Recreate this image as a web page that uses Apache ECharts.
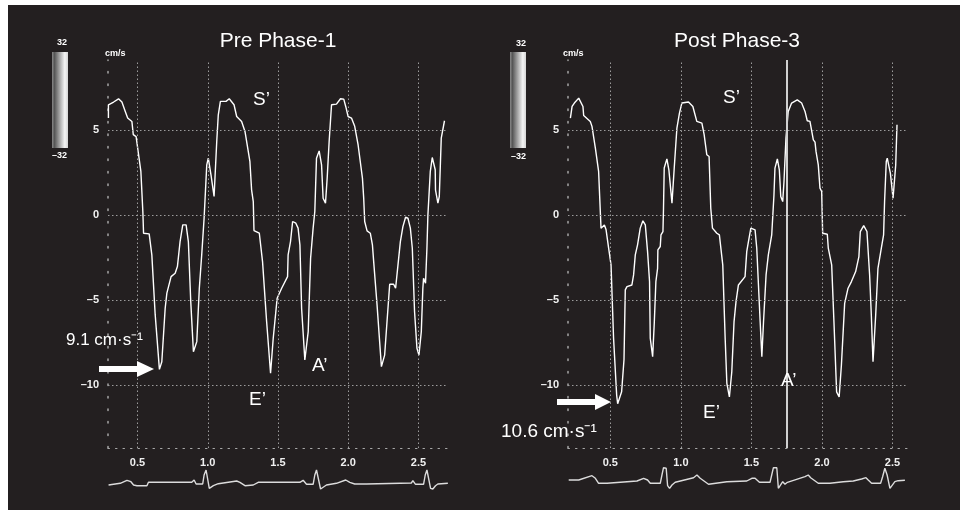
<!DOCTYPE html>
<html lang="en">
<head>
  <meta charset="UTF-8">
  <title>Tissue Doppler Pre / Post</title>
  <script src="https://cdn.jsdelivr.net/npm/echarts@6/dist/echarts.min.js"></script>
</head>
<body style="margin:0;background:#fff">
  <div id="main" style="width:960px;height:518px"></div>
  <script>
    // velocity traces (s, cm/s)
    var leftTime = [0.293, 0.293, 0.306, 0.33, 0.365, 0.389, 0.413, 0.43, 0.46, 0.47, 0.49, 0.524, 0.538, 0.543, 0.583, 0.602, 0.626, 0.656, 0.673, 0.697, 0.709, 0.739, 0.768, 0.784, 0.803, 0.822, 0.846, 0.862, 0.879, 0.898, 0.922, 0.94, 0.957, 0.974, 0.993, 1.004, 1.023, 1.045, 1.064, 1.075, 1.09, 1.13, 1.153, 1.187, 1.206, 1.241, 1.265, 1.3, 1.312, 1.324, 1.329, 1.367, 1.39, 1.419, 1.447, 1.466, 1.494, 1.526, 1.568, 1.572, 1.589, 1.604, 1.627, 1.643, 1.656, 1.668, 1.691, 1.715, 1.732, 1.75, 1.762, 1.774, 1.793, 1.81, 1.821, 1.838, 1.85, 1.864, 1.881, 1.916, 1.945, 1.968, 1.982, 1.999, 2.023, 2.046, 2.07, 2.101, 2.11, 2.117, 2.134, 2.157, 2.172, 2.181, 2.195, 2.205, 2.236, 2.259, 2.276, 2.295, 2.323, 2.337, 2.354, 2.371, 2.389, 2.408, 2.425, 2.442, 2.456, 2.472, 2.489, 2.503, 2.52, 2.531, 2.536, 2.55, 2.56, 2.567, 2.584, 2.598, 2.619, 2.621, 2.638, 2.648, 2.662, 2.685]
    var leftVel = [5.69, 6.47, 6.57, 6.63, 6.82, 6.63, 6.08, 5.69, 5.49, 4.71, 4.6, 2.55, 0.2, -1.08, -1.12, -2.35, -5.88, -9.08, -8.63, -5.49, -4.6, -3.63, -3.43, -3.04, -1.57, -0.59, -0.59, -1.57, -5.1, -8.04, -7.45, -4.31, -2.35, -0.2, 2.94, 3.33, 2.35, 1.08, 4.31, 5.88, 6.67, 6.67, 6.82, 6.47, 5.78, 5.49, 4.9, 3.14, 1.47, 0.78, -0.92, -1.08, -2.75, -6.27, -9.31, -7.25, -4.9, -4.31, -3.63, -2.35, -1.57, -0.39, -0.49, -0.78, -1.76, -5.49, -8.53, -6.86, -2.55, -0.78, 0.2, 3.33, 3.76, 2.94, 0.98, 0.69, 2.16, 4.31, 6.47, 6.51, 6.82, 6.8, 6.37, 5.78, 5.69, 5.2, 4.12, 2.16, 0.98, -0.39, -0.94, -1.08, -1.76, -2.75, -2.84, -5.29, -8.92, -8.24, -6.27, -4.08, -4.08, -4.31, -2.94, -1.57, -0.69, -0.14, -0.2, -0.78, -1.96, -5.69, -7.84, -8.24, -6.86, -4.31, -3.73, -4.02, -1.96, 0, 2.55, 3.37, 2.65, 1.47, 0.69, 1.08, 4.51, 5.53]

    var rightTime = [0.217, 0.229, 0.245, 0.276, 0.306, 0.311, 0.358, 0.37, 0.394, 0.417, 0.434, 0.458, 0.47, 0.488, 0.505, 0.523, 0.545, 0.552, 0.58, 0.597, 0.606, 0.618, 0.653, 0.665, 0.677, 0.693, 0.705, 0.712, 0.731, 0.748, 0.764, 0.778, 0.783, 0.8, 0.812, 0.823, 0.835, 0.837, 0.854, 0.859, 0.873, 0.877, 0.882, 0.901, 0.915, 0.937, 0.953, 0.972, 0.99, 1.007, 1.019, 1.054, 1.085, 1.113, 1.149, 1.165, 1.184, 1.2, 1.212, 1.224, 1.255, 1.273, 1.297, 1.314, 1.326, 1.344, 1.361, 1.377, 1.391, 1.408, 1.455, 1.467, 1.479, 1.496, 1.51, 1.526, 1.538, 1.55, 1.562, 1.574, 1.586, 1.604, 1.62, 1.644, 1.66, 1.667, 1.684, 1.698, 1.708, 1.722, 1.731, 1.745, 1.761, 1.785, 1.825, 1.856, 1.864, 1.88, 1.896, 1.915, 1.939, 1.951, 1.958, 1.974, 1.986, 1.998, 2.005, 2.038, 2.045, 2.069, 2.085, 2.104, 2.122, 2.138, 2.161, 2.185, 2.209, 2.239, 2.262, 2.272, 2.296, 2.319, 2.338, 2.35, 2.362, 2.381, 2.397, 2.421, 2.437, 2.444, 2.456, 2.463, 2.485, 2.504, 2.523, 2.532]
    var rightVel = [5.69, 6.37, 6.57, 6.86, 6.37, 5.84, 5.49, 5.2, 3.92, 2.55, -0.78, -0.59, -0.88, -1.96, -2.94, -7.25, -10.6, -11.1, -10.4, -8.5, -4.41, -4.22, -4.12, -3.53, -2.35, -1.76, -1.67, -0.78, -0.35, -0.59, -2.16, -3.92, -7.25, -8.33, -6.27, -3.92, -3.14, -2.06, -1.86, -1.18, -0.98, 0.39, 2.75, 3.29, 2.65, 0.69, 2.75, 5.1, 5.98, 6.57, 6.63, 6.63, 6.37, 5.49, 5.39, 4.71, 3.53, 3.43, 0.39, -0.78, -1.08, -1.18, -2.94, -7.25, -9.9, -10.7, -9.22, -6.27, -5.1, -4.12, -3.63, -2.16, -1.57, -0.78, -0.69, -0.88, -1.96, -4.12, -6.27, -8.33, -6.27, -3.53, -2.35, -1.18, 1.18, 2.75, 3.29, 2.65, 1.08, 0.78, 1.96, 4.51, 6.08, 6.57, 6.76, 6.57, 6.47, 6.08, 5.53, 5.49, 4.41, 4.27, 3.73, 2.94, 1.57, 1.37, -1.08, -1.14, -1.96, -2.94, -6.27, -10.4, -10.7, -8.82, -5.2, -4.31, -3.92, -3.33, -2.45, -0.98, -0.63, -0.98, -3.53, -5.88, -8.63, -5.88, -3.14, -1.96, -1.18, 0.78, 3.14, 3.33, 2.45, 0.98, 2.94, 5.29]

    // ECG strips (arbitrary units)
    var leftEcgTime = [0.294, 0.377, 0.425, 0.453, 0.472, 0.496, 0.567, 0.578, 0.886, 0.903, 0.917, 0.964, 0.974, 0.988, 1.0, 1.011, 1.021, 1.04, 1.075, 1.206, 1.229, 1.265, 1.324, 1.359, 1.656, 1.679, 1.703, 1.75, 1.762, 1.774, 1.788, 1.803, 1.817, 1.845, 1.916, 1.982, 2.011, 2.046, 2.129, 2.141, 2.449, 2.46, 2.479, 2.536, 2.548, 2.56, 2.574, 2.586, 2.602, 2.621, 2.638, 2.709]
    var leftEcgVal = [0, 0.17, 0.47, 0.33, 0, -0.07, -0.07, 0.27, 0.27, 0.5, 0.1, 0.1, 1.0, 1.5, 1.43, -0.33, -0.4, -0.07, 0.13, 0.4, 0.27, -0.07, 0, 0.27, 0.27, 0.47, 0.07, 0.07, 1.0, 1.5, 1.4, -0.4, -0.33, 0, 0.17, 0.5, 0.27, 0.1, 0.1, 0.2, 0.2, 0.43, 0.07, 0.07, 1.0, 1.5, 1.33, -0.33, -0.4, -0.07, 0.1, 0.17]
    var rightEcgTime = [0.205, 0.276, 0.37, 0.394, 0.417, 0.477, 0.488, 0.689, 0.736, 0.764, 0.783, 0.854, 0.866, 0.877, 0.896, 0.906, 0.92, 0.937, 0.96, 1.09, 1.114, 1.137, 1.196, 1.326, 1.467, 1.503, 1.526, 1.557, 1.632, 1.644, 1.656, 1.68, 1.691, 1.703, 1.722, 1.738, 1.755, 1.88, 1.903, 1.92, 1.974, 2.057, 2.151, 2.222, 2.281, 2.312, 2.328, 2.352, 2.416, 2.43, 2.446, 2.462, 2.482, 2.494, 2.517, 2.54, 2.588]
    var rightEcgVal = [0.5, 0.5, 0.93, 0.67, 0.17, 0.17, 0.33, 0.4, 0.67, 0.5, 0.17, 0.17, 1.0, 1.73, 1.67, -0.07, -0.33, 0, 0.27, 0.73, 1.0, 0.67, 0.07, 0.33, 0.4, 0.67, 0.67, 0.27, 0.27, 1.0, 1.73, 1.73, -0.33, -0.33, 0.33, 0.07, 0.27, 0.83, 1.0, 0.73, 0.17, 0.17, 0.33, 0.4, 0.6, 0.73, 0.5, 0.17, 0.17, 0.83, 1.67, 1.0, -0.33, -0.17, 0.33, 0.43, 0.47]

    var timeTicks = [0.5, 1.0, 1.5, 2.0, 2.5]
    var velTicks = [5, 0, -5, -10]
    var cursorTime = 1.755

    function zip(a, b) {
      var out = []
      for (var i = 0; i < a.length; i++) out.push([a[i], b[i]])
      return out
    }

    var font = 'Liberation Sans'
    var gridDash = { color: '#9c9c9c', width: 1, type: [1.5, 2.5] }

    function mainX(idx, min, max) {
      return {
        gridIndex: idx, type: 'value', min: min, max: max,
        splitLine: { show: false }, axisTick: { show: false },
        axisLine: { show: true, onZero: false, lineStyle: { color: '#a8a8a8', width: 1, type: [1.5, 6] } },
        axisLabel: {
          customValues: timeTicks, margin: 9, color: '#f0f0f0', fontSize: 11, fontWeight: 'bold', fontFamily: font,
          formatter: function (v) { return v.toFixed(1) }
        }
      }
    }
    function mainY(idx) {
      return {
        gridIndex: idx, type: 'value', min: -13.7, max: 9.1,
        splitLine: { show: false }, axisTick: { show: false },
        axisLine: { show: true, onZero: false, lineStyle: { color: '#a8a8a8', width: 1.5, type: [1.5, 11] } },
        axisLabel: {
          customValues: velTicks, margin: 9, color: '#f0f0f0', fontSize: 11, fontWeight: 'bold', fontFamily: font,
          formatter: function (v) { return v < 0 ? '\u2013' + Math.abs(v) : String(v) }
        }
      }
    }
    function hiddenX(idx, min, max) {
      return { gridIndex: idx, type: 'value', min: min, max: max, show: false }
    }
    function hiddenY(idx) {
      return { gridIndex: idx, type: 'value', min: -1, max: 2, show: false }
    }

    function gridMarks(extra) {
      var data = []
      timeTicks.forEach(function (t) { data.push({ xAxis: t }) })
      velTicks.forEach(function (v) { data.push({ yAxis: v }) })
      if (extra) data.push(extra)
      return { silent: true, symbol: 'none', label: { show: false }, lineStyle: gridDash, data: data }
    }

    function trace(xi, data, markLine) {
      return {
        type: 'line', xAxisIndex: xi, yAxisIndex: xi, data: data, showSymbol: false,
        lineStyle: { color: '#ffffff', width: 1.4 }, z: 3, markLine: markLine
      }
    }
    function ecg(xi, data) {
      return {
        type: 'line', xAxisIndex: xi, yAxisIndex: xi, data: data, showSymbol: false,
        lineStyle: { color: '#dcdcdc', width: 1.4 }
      }
    }

    function txt(x, y, s, size, align, bold) {
      return {
        type: 'text', x: x, y: y, z: 10,
        style: {
          text: s, fill: '#ffffff', fontSize: size, fontFamily: font, fontWeight: bold ? 'bold' : 'normal',
          textAlign: align || 'left', textVerticalAlign: 'middle'
        }
      }
    }
    function colorBar(x) {
      return {
        type: 'rect', shape: { x: x, y: 52, width: 16, height: 96 }, z: 1,
        style: {
          fill: {
            type: 'linear', x: 0, y: 0, x2: 1, y2: 0,
            colorStops: [{ offset: 0, color: '#8a8a8a' }, { offset: 0.15, color: '#555555' }, { offset: 0.8, color: '#f5f5f5' }, { offset: 1, color: '#d4d4d4' }]
          }
        }
      }
    }
    function arrow(x0, xh, x1, y) {
      return {
        type: 'polygon', z: 10,
        shape: { points: [[x0, y - 3], [xh, y - 3], [xh, y - 8], [x1, y], [xh, y + 8], [xh, y + 3], [x0, y + 3]] },
        style: { fill: '#ffffff' }
      }
    }

    var chart = echarts.init(document.getElementById('main'))
    var option = {
      animation: false,
      backgroundColor: '#ffffff',
      title: [
        { text: 'Pre Phase-1', left: 278, top: 31, textAlign: 'center', padding: 0, textStyle: { color: '#ffffff', fontSize: 21, fontWeight: 'normal', fontFamily: font } },
        { text: 'Post Phase-3', left: 737, top: 31, textAlign: 'center', padding: 0, textStyle: { color: '#ffffff', fontSize: 21, fontWeight: 'normal', fontFamily: font } }
      ],
      grid: [
        { left: 108, top: 60, width: 340, height: 388 },
        { left: 108, top: 465, width: 340, height: 30 },
        { left: 568, top: 60, width: 340, height: 388 },
        { left: 568, top: 465, width: 340, height: 30 }
      ],
      xAxis: [mainX(0, 0.29, 2.71), hiddenX(1, 0.29, 2.71), mainX(2, 0.2, 2.61), hiddenX(3, 0.2, 2.61)],
      yAxis: [mainY(0), hiddenY(1), mainY(2), hiddenY(3)],
      series: [
        trace(0, zip(leftTime, leftVel), gridMarks()),
        ecg(1, zip(leftEcgTime, leftEcgVal)),
        trace(2, zip(rightTime, rightVel), gridMarks({ xAxis: cursorTime, lineStyle: { color: '#d0d0d0', width: 2, type: 'solid' } })),
        ecg(3, zip(rightEcgTime, rightEcgVal))
      ],
      graphic: [
        { type: 'rect', shape: { x: 8, y: 5, width: 952, height: 505 }, style: { fill: '#231f20' }, z: -10 },
        colorBar(52), colorBar(510),
        txt(67, 43, '32', 9, 'right', true), txt(67, 156, '\u201332', 9, 'right', true),
        txt(526, 44, '32', 9, 'right', true), txt(526, 157, '\u201332', 9, 'right', true),
        txt(105, 54, 'cm/s', 9, 'left', true), txt(563, 54, 'cm/s', 9, 'left', true),
        txt(253, 100, 'S\u2019', 19), txt(249, 400, 'E\u2019', 19), txt(312, 366, 'A\u2019', 19),
        txt(66, 340, '9.1 cm\u00b7s\u207b\u00b9', 17),
        txt(723, 98, 'S\u2019', 19), txt(703, 413, 'E\u2019', 19), txt(781, 381, 'A\u2019', 19),
        txt(501, 432, '10.6 cm\u00b7s\u207b\u00b9', 19),
        arrow(99, 137, 154, 369), arrow(557, 595, 611, 402)
      ]
    }
    chart.setOption(option)
  </script>
</body>
</html>
